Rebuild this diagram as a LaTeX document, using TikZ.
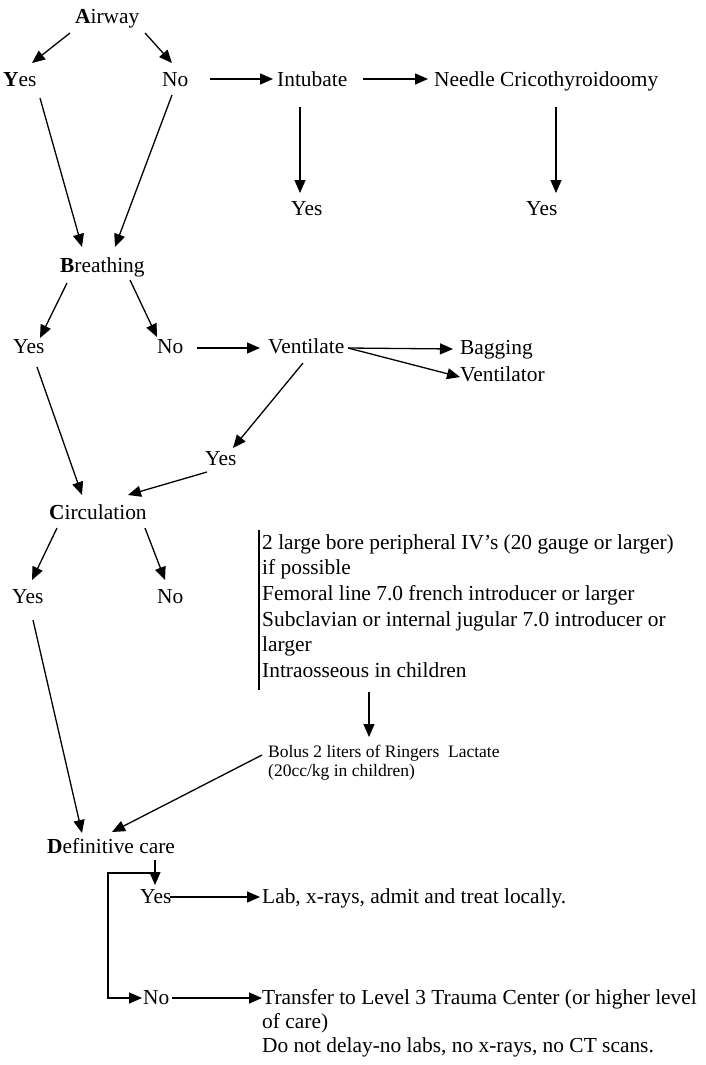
\documentclass[tikz,border=0pt]{standalone}
\usepackage{fontspec}
\setmainfont{Liberation Serif}
\usetikzlibrary{arrows.meta}
\newcommand\mainf{\fontsize{21.4}{25.6}\selectfont}
\newcommand\smallf{\fontsize{17.5}{19}\selectfont}
\newcommand\trf{\fontsize{21.4}{24}\selectfont}
\tikzset{
  lbl/.style={anchor=base west, inner sep=0pt, font=\mainf},
  blk/.style={anchor=north west, inner sep=0pt, align=left},
  arr/.style={-{Triangle[length=13pt,width=11pt]}, line width=1.3pt},
  plain/.style={line width=1.3pt}
}
\begin{document}
\begin{tikzpicture}[x=1pt,y=-1pt]
\useasboundingbox[fill=white] (0,0) rectangle (705,1065);
% nodes
\node[lbl] (airway) at (75,24) {\textbf{A}irway};
\node[lbl] (yesA) at (3,86) {\textbf{Y}es};
\node[lbl] (noA) at (162,86) {No};
\node[lbl] (intub) at (277,86) {Intubate};
\node[lbl] (needle) at (434,86) {Needle Cricothyroidoomy};
\node[lbl] (yesI) at (291,215) {Yes};
\node[lbl] (yesN) at (526,215) {Yes};
\node[lbl] (breath) at (60,272) {\textbf{B}reathing};
\node[lbl] (yesB) at (13,353) {Yes};
\node[lbl] (noB) at (157,353) {No};
\node[lbl] (vent) at (268,353) {Ventilate};
\node[lbl] (bag) at (460,354) {Bagging};
\node[lbl] (ventor) at (460,381) {Ventilator};
\node[lbl] (yesV) at (205,465) {Yes};
\node[lbl] (circ) at (49,519) {\textbf{C}irculation};
\node[lbl] (yesC) at (12,603) {Yes};
\node[lbl] (noC) at (157,603) {No};
\node[blk, font=\mainf] (block) at (262,534.2) {2 large bore peripheral IV’s (20 gauge or larger)\\if possible\\Femoral line 7.0 french introducer or larger\\Subclavian or internal jugular 7.0 introducer or\\larger\\Intraosseous in children};
\node[blk, font=\smallf] (bolus) at (268,745) {Bolus 2 liters of Ringers\ \ Lactate\\(20cc/kg in children)};
\node[lbl] (defc) at (47,853) {\textbf{D}efinitive care};
\node[lbl] (yesD) at (140,903) {Yes};
\node[lbl] (lab) at (262,903) {Lab, x-rays, admit and treat locally.};
\node[lbl] (noD) at (143,1004) {No};
\node[blk, font=\trf] (transfer) at (262,989) {Transfer to Level 3 Trauma Center (or higher level\\of care)\\Do not delay-no labs, no x-rays, no CT scans.};
% connectors
\draw[arr] ([shift={(-5,9)}]airway.base west) -- ([shift={(29,-23)}]yesA.base west);
\draw[arr] ([shift={(70,9)}]airway.base west) -- ([shift={(10,-23)}]noA.base west);
\draw[arr] ([shift={(48,-7)}]noA.base west) -- ([shift={(-4,-7)}]intub.base west);
\draw[arr] ([shift={(86,-7)}]intub.base west) -- ([shift={(-6,-7)}]needle.base west);
\draw[arr] ([shift={(23,21)}]intub.base west) -- ([shift={(9,-22)}]yesI.base west);
\draw[arr] ([shift={(122,21)}]needle.base west) -- ([shift={(30,-22)}]yesN.base west);
\draw[arr] ([shift={(37,12)}]yesA.base west) -- ([shift={(22,-25)}]breath.base west);
\draw[arr] ([shift={(10,9)}]noA.base west) -- ([shift={(55,-25)}]breath.base west);
\draw[arr] ([shift={(7,11)}]breath.base west) -- ([shift={(27,-15)}]yesB.base west);
\draw[arr] ([shift={(70,8)}]breath.base west) -- ([shift={(0,-16)}]noB.base west);
\draw[arr] ([shift={(40,-5)}]noB.base west) -- ([shift={(-8,-5)}]vent.base west);
\draw[arr] ([shift={(80,-5)}]vent.base west) -- ([shift={(-7,-5)}]bag.base west);
\draw[arr] ([shift={(80,-5)}]vent.base west) -- ([shift={(0,-4)}]ventor.base west);
\draw[arr] ([shift={(35,10)}]vent.base west) -- ([shift={(28,-17)}]yesV.base west);
\draw[arr] ([shift={(2,7)}]yesV.base west) -- ([shift={(79,-24)}]circ.base west);
\draw[arr] ([shift={(24,14)}]yesB.base west) -- ([shift={(33,-24)}]circ.base west);
\draw[arr] ([shift={(8,9)}]circ.base west) -- ([shift={(20,-23)}]yesC.base west);
\draw[arr] ([shift={(96,9)}]circ.base west) -- ([shift={(8,-23)}]noC.base west);
\draw[plain] ([shift={(-3,-4)}]block.north west) -- ([shift={(-3,156)}]block.north west);
\draw[arr] ([shift={(107,157.8)}]block.north west) -- ([shift={(101,-8)}]bolus.north west);
\draw[arr] ([shift={(21,17)}]yesC.base west) -- ([shift={(35,-20)}]defc.base west);
\draw[arr] ([shift={(-6,10)}]bolus.north west) -- ([shift={(65,-21)}]defc.base west);
\draw[arr] ([shift={(108,7)}]defc.base west) -- ([shift={(15,-18)}]yesD.base west);
\draw[arr] ([shift={(108,20)}]defc.base west) -- ++(-47,0) |- ([shift={(-1,-6)}]noD.base west);
\draw[arr] ([shift={(30,-6)}]yesD.base west) -- ([shift={(-2,-6)}]lab.base west);
\draw[arr] ([shift={(29,-6)}]noD.base west) -- ([shift={(0,9)}]transfer.north west);
\end{tikzpicture}
\end{document}
